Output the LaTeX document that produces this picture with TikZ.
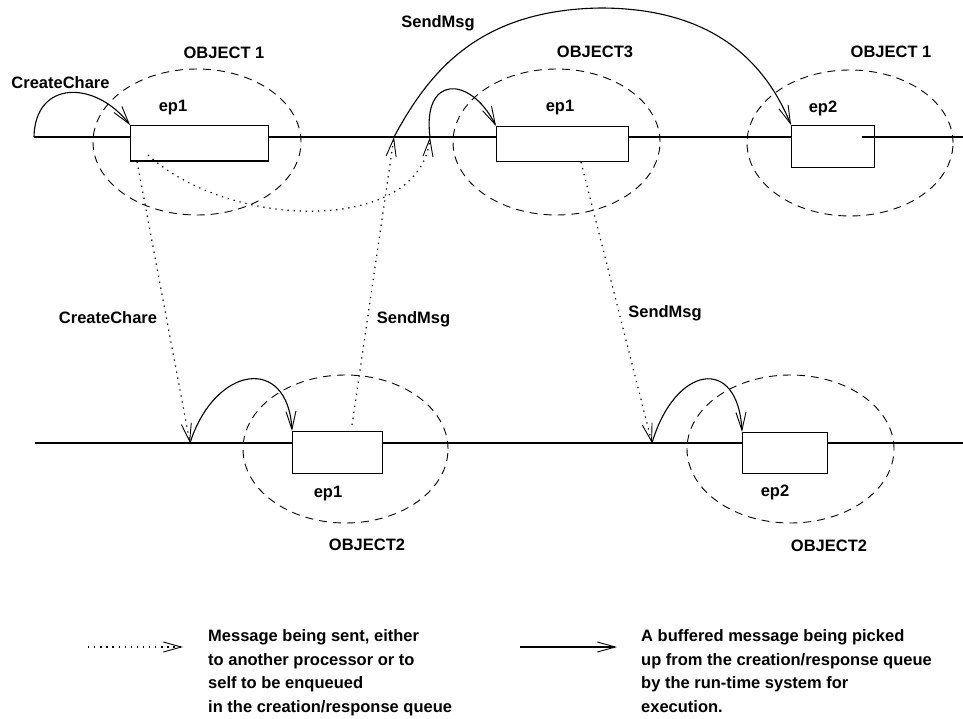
\documentclass[tikz,border=0pt]{standalone}
\usepackage{fontspec}
\setmainfont{Liberation Sans}
\usetikzlibrary{shapes.geometric,arrows.meta,calc}

\tikzset{
  timeline/.style={line width=1.1pt},
  entrybox/.style={draw, line width=1.1pt, fill=white, rectangle, inner sep=0pt, anchor=north west},
  objring/.style={draw, ellipse, dash pattern=on 8pt off 6pt, line width=0.9pt, inner sep=0pt},
  pickup/.style={line width=1.1pt, -{Straight Barb[length=18pt,width=10pt,line width=0.9pt]}},
  sendmsg/.style={line width=1.2pt, dash pattern=on 1.3pt off 4.8pt,
                  -{Straight Barb[length=18pt,width=10pt,line width=0.9pt]}},
  lbl/.style={font=\bfseries\fontsize{16.5}{20}\selectfont, inner sep=0pt, anchor=base},
  legendtext/.style={font=\bfseries\fontsize{16.5}{23.5}\selectfont, inner sep=0pt,
                     anchor=north west, align=left}
}

\begin{document}
\begin{tikzpicture}[x=1pt, y=-1pt]
\useasboundingbox (0,0) rectangle (963,719);

% processor time lines
\draw[timeline] (34,137) -- (963,137);
\draw[timeline] (35,443) -- (963,443);

% objects (dashed rings)
\node[objring, minimum width=208pt, minimum height=146pt] (o1a) at (197,142) {};
\node[objring, minimum width=207pt, minimum height=146pt] (o3)  at (556.5,142) {};
\node[objring, minimum width=206pt, minimum height=146pt] (o1b) at (850,143) {};
\node[objring, minimum width=205pt, minimum height=148pt] (o2a) at (345.5,449) {};
\node[objring, minimum width=207pt, minimum height=148pt] (o2b) at (790.5,449) {};

% entry-point executions
\node[entrybox, minimum width=138pt, minimum height=35.5pt] (b1) at (130,125) {};
\node[entrybox, minimum width=132pt, minimum height=35pt]   (b2) at (496,126) {};
\node[entrybox, minimum width=83pt,  minimum height=42pt]   (b3) at (791,125) {};
\node[entrybox, minimum width=90pt,  minimum height=42pt]   (b4) at (292,431) {};
\node[entrybox, minimum width=85pt,  minimum height=41pt]   (b5) at (742,432) {};
\draw[timeline] (862,137) -- (b3.east |- 0,137);

% arrival points on the time lines
\coordinate (t0) at (34,137);
\coordinate (t1) at (394,137);
\coordinate (t2) at (430,137);
\coordinate (q1) at (190,443);
\coordinate (q2) at (652,443);
\coordinate (s1) at ($(b1.south west)+(7,0)$);
\coordinate (s2) at ($(b1.north west)+(18,30)$);
\coordinate (s3) at ($(b4.north west)+(60,-6)$);
\coordinate (s4) at ($(b2.south west)+(85,0)$);

% labels
\node[lbl] (l1)  at (60.5,89)  {CreateChare};
\node[lbl] (l2)  at (224,59)   {OBJECT 1};
\node[lbl] (l3)  at (173,112)  {ep1};
\node[lbl] (l4)  at (438,28)   {SendMsg};
\node[lbl] (l5)  at (595,58)   {OBJECT3};
\node[lbl] (l6)  at (560,112)  {ep1};
\node[lbl] (l7)  at (891,58)   {OBJECT 1};
\node[lbl] (l8)  at (823,113)  {ep2};
\node[lbl] (l9)  at (108,323)  {CreateChare};
\node[lbl] (l10) at (413.5,323) {SendMsg};
\node[lbl] (l11) at (665,317)  {SendMsg};
\node[lbl] (l12) at (328,497)  {ep1};
\node[lbl] (l13) at (367,550)  {OBJECT2};
\node[lbl] (l14) at (775,496)  {ep2};
\node[lbl] (l15) at (829,551)  {OBJECT2};

% messages sent (dotted)
\draw[sendmsg] (s1) -- (q1);
\draw[sendmsg] (s2) .. controls (230,230) and (420,235) .. (t2);
\draw[sendmsg] (s3) -- (t1);
\draw[sendmsg] (s4) -- (q2);

% buffered messages picked up (solid)
\draw[pickup] (t0) .. controls (35,80) and (95,80) .. (b1.north west);
\draw[pickup] (t2) .. controls (422,75) and (470,75) .. (b2.north west);
\draw[pickup] (t1) .. controls (430,70) and (480,10) .. (600,8)
                   .. controls (700,8) and (760,50) .. (b3.north west);
\draw[pickup] (q1) .. controls (215,365) and (288,355) .. (b4.north west);
\draw[pickup] (q2) .. controls (675,365) and (738,355) .. (b5.north west);

% legend
\coordinate (la0) at (88,647);
\coordinate (la1) at (183,647);
\coordinate (lb0) at (520,647);
\coordinate (lb1) at (617,647);
\draw[sendmsg] (la0) -- (la1);
\draw[pickup] (lb0) -- (lb1);
\node[legendtext] (lt1) at (208,629.7) {Message being sent, either\\to another processor or to\\self to be enqueued\\in the creation/response queue};
\node[legendtext] (lt2) at (641,629.7) {A buffered message being picked\\up from the creation/response queue\\by the run-time system for\\execution.};
\end{tikzpicture}
\end{document}
